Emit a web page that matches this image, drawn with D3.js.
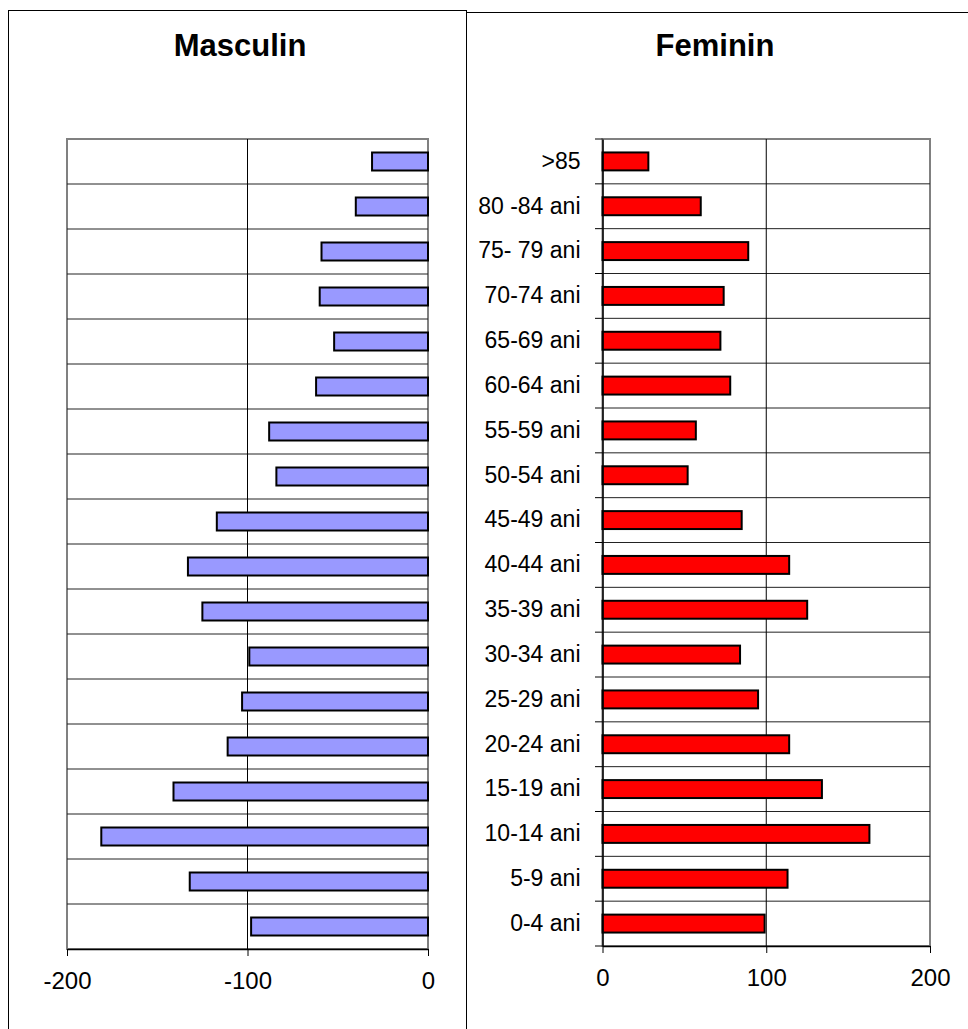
<!DOCTYPE html>
<html lang="ro">

<head>
    <meta charset="utf-8">
    <title>Piramida varstelor</title>
    <script type="text/javascript" src="https://cdn.jsdelivr.net/npm/d3@7/dist/d3.min.js"></script>
    <style type="text/css">
        body { margin: 0; background: #fff; }
        svg { display: block; font-family: Arial, "Liberation Sans", sans-serif; }
    </style>
</head>

<body>
    <script type="text/javascript">

        // age groups, bottom to top
        var ages = ["0-4 ani", "5-9 ani", "10-14 ani", "15-19 ani", "20-24 ani", "25-29 ani",
            "30-34 ani", "35-39 ani", "40-44 ani", "45-49 ani", "50-54 ani", "55-59 ani",
            "60-64 ani", "65-69 ani", "70-74 ani", "75- 79 ani", "80 -84 ani", ">85"];
        var masculin = [98, 132, 181, 141, 111, 103, 99, 125, 133, 117, 84, 88, 62, 52, 60, 59, 40, 31];
        var feminin = [99, 113, 163, 134, 114, 95, 84, 125, 114, 85, 52, 57, 78, 72, 74, 89, 60, 28];
        var ticksM = [-200, -100, 0];
        var ticksF = [0, 100, 200];

        var w = 968;
        var h = 1029;

        var svg = d3.select("body")
            .append("svg")
            .attr("width", w)
            .attr("height", h);

        //Panel frames
        svg.append("rect")
            .attr("x", 8.5).attr("y", 10.5)
            .attr("width", 458).attr("height", 1100)
            .attr("fill", "none").attr("stroke", "#000").attr("stroke-width", 1);
        svg.append("rect")
            .attr("x", 466.5).attr("y", 12.5)
            .attr("width", 600).attr("height", 1100)
            .attr("fill", "none").attr("stroke", "#000").attr("stroke-width", 1);

        var order = ages.slice().reverse(); // top to bottom

        function panel(opt) {
            var g = svg.append("g");
            var x = d3.scaleLinear().domain(opt.domain).range([opt.left, opt.right]);
            var y = d3.scaleBand().domain(order).range([opt.top, opt.bottom])
                .paddingInner(0.6).paddingOuter(0.3);
            var step = y.step();
            var bounds = d3.range(1, order.length).map(function (i) { return opt.top + i * step; });

            //Plot area border
            g.append("rect")
                .attr("x", opt.left).attr("y", opt.top)
                .attr("width", opt.right - opt.left).attr("height", opt.bottom - opt.top)
                .attr("fill", "#fff").attr("stroke", "#808080").attr("stroke-width", 2);

            //Gridlines
            g.selectAll(".hgrid")
                .data(bounds)
                .enter()
                .append("line")
                .attr("x1", opt.left).attr("x2", opt.right)
                .attr("y1", function (d) { return d; })
                .attr("y2", function (d) { return d; })
                .attr("stroke", "#222").attr("stroke-width", 1);
            g.append("line")
                .attr("x1", x(opt.mid)).attr("x2", x(opt.mid))
                .attr("y1", opt.top).attr("y2", opt.bottom)
                .attr("stroke", "#000").attr("stroke-width", 1);

            //Bars
            g.selectAll(".bar")
                .data(opt.values)
                .enter()
                .append("rect")
                .attr("x", function (d) { return Math.min(x(0), x(opt.sign * d)); })
                .attr("y", function (d, i) { return y(ages[i]); })
                .attr("width", function (d) { return Math.abs(x(opt.sign * d) - x(0)); })
                .attr("height", y.bandwidth())
                .attr("fill", opt.color)
                .attr("stroke", "#000")
                .attr("stroke-width", 2);

            //X axis
            var xa = g.append("g")
                .attr("transform", "translate(0," + opt.bottom + ")")
                .call(d3.axisBottom(x).tickValues(opt.ticks)
                    .tickFormat(function (d) { return String(d); })
                    .tickSize(7).tickSizeOuter(0).tickPadding(16));
            xa.select(".domain").attr("stroke", "#000").attr("stroke-width", 1.5);
            xa.selectAll("text").attr("font-size", "24px").attr("fill", "#000")
                .attr("font-family", "Arial, 'Liberation Sans', sans-serif");

            //Title
            g.append("text")
                .attr("x", opt.titleX).attr("y", 56)
                .attr("text-anchor", "middle")
                .attr("font-size", "31px").attr("font-weight", "bold")
                .text(opt.title);

            return { g: g, x: x, y: y, bounds: bounds };
        }

        panel({
            left: 67, right: 428, top: 139, bottom: 949,
            domain: [-200, 0], mid: -100, sign: -1,
            values: masculin, ticks: ticksM, color: "#9999ff",
            title: "Masculin", titleX: 240
        });

        var pf = panel({
            left: 602.5, right: 930, top: 139, bottom: 946,
            domain: [0, 200], mid: 100, sign: 1,
            values: feminin, ticks: ticksF, color: "#ff0000",
            title: "Feminin", titleX: 715
        });

        //Category axis (right panel)
        var ya = pf.g.append("g")
            .attr("transform", "translate(602.5,0)")
            .call(d3.axisLeft(pf.y).tickSize(0).tickSizeOuter(0).tickPadding(22));
        ya.select(".domain").attr("stroke", "#000").attr("stroke-width", 1.5);
        ya.selectAll("text").attr("font-size", "23px").attr("fill", "#000")
            .attr("font-family", "Arial, 'Liberation Sans', sans-serif");

        pf.g.selectAll(".ytick")
            .data([139].concat(pf.bounds, [946]))
            .enter()
            .append("line")
            .attr("x1", 595).attr("x2", 602.5)
            .attr("y1", function (d) { return d; })
            .attr("y2", function (d) { return d; })
            .attr("stroke", "#000").attr("stroke-width", 1);

    </script>
</body>

</html>
